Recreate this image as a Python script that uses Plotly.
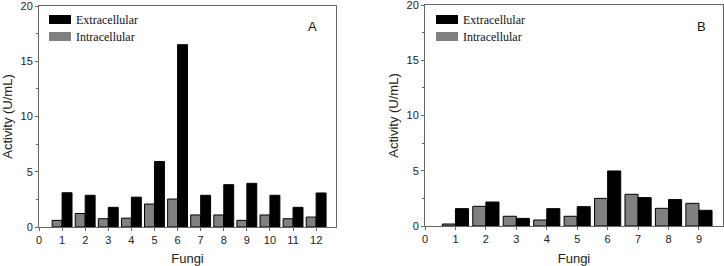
import plotly.graph_objects as go

# Panel A data
fungi_a = list(range(1, 13))
extra_a = [3.1, 2.87, 1.78, 2.7, 5.93, 16.5, 2.87, 3.83, 3.95, 2.87, 1.78, 3.08]
intra_a = [0.6, 1.22, 0.75, 0.8, 2.08, 2.53, 1.09, 1.09, 0.6, 1.09, 0.75, 0.9]

# Panel B data
fungi_b = list(range(1, 10))
extra_b = [1.57, 2.17, 0.69, 1.57, 1.75, 4.98, 2.57, 2.39, 1.42]
intra_b = [0.18, 1.78, 0.88, 0.54, 0.88, 2.5, 2.87, 1.6, 2.05]

W, H = 724, 266
GREY = "#808080"
AX = "#666666"

def px_x(v):
    return v / W

def px_y(v):
    return 1 - v / H

fig = go.Figure()
fig.add_trace(go.Bar(x=fungi_a, y=intra_a, name="Intracellular", marker=dict(color=GREY, line=dict(color="black", width=1)),
                     xaxis="x", yaxis="y", showlegend=False, offsetgroup="i"))
fig.add_trace(go.Bar(x=fungi_a, y=extra_a, name="Extracellular", marker=dict(color="black", line=dict(color="black", width=1)),
                     xaxis="x", yaxis="y", showlegend=False, offsetgroup="e"))
fig.add_trace(go.Bar(x=fungi_b, y=intra_b, name="Intracellular", marker=dict(color=GREY, line=dict(color="black", width=1)),
                     xaxis="x2", yaxis="y2", showlegend=False, offsetgroup="i"))
fig.add_trace(go.Bar(x=fungi_b, y=extra_b, name="Extracellular", marker=dict(color="black", line=dict(color="black", width=1)),
                     xaxis="x2", yaxis="y2", showlegend=False, offsetgroup="e"))

tickfont = dict(family="Liberation Sans, Arial", size=11, color="#222")
titlefont = dict(family="Liberation Sans, Arial", size=13, color="#222")

def xax(domain, rng, n, anchor):
    return dict(domain=domain, range=rng, anchor=anchor, tickmode="array", tickvals=list(range(0, n + 1)),
                ticktext=[str(i) for i in range(0, n + 1)], ticks="outside", ticklen=3, tickcolor=AX,
                showline=True, linecolor=AX, linewidth=1, mirror=True, showgrid=False, zeroline=False,
                automargin=False, ticklabeloverflow="allow", tickfont=tickfont,
                title=dict(text="Fungi", font=titlefont, standoff=9))

def yax(domain, anchor):
    return dict(domain=domain, range=[0, 20], anchor=anchor, tickvals=[0, 5, 10, 15, 20], ticks="outside", ticklen=3,
                tickcolor=AX, showline=True, linecolor=AX, linewidth=1, mirror=True, showgrid=False, zeroline=False,
                minor=dict(dtick=2.5, ticks="outside", ticklen=2, tickcolor=AX, showgrid=False),
                automargin=False, ticklabeloverflow="allow", tickfont=tickfont,
                title=dict(text="Activity (U/mL)", font=titlefont, standoff=4))

fig.update_layout(
    width=W, height=H, margin=dict(l=0, r=0, t=0, b=0),
    paper_bgcolor="white", plot_bgcolor="white",
    barmode="group", bargap=0.14, bargroupgap=0,
    xaxis=xax([px_x(39), px_x(336)], [0, 12.86], 12, "y"),
    yaxis=yax([px_y(227), px_y(6)], "x"),
    xaxis2=xax([px_x(425), px_x(723)], [0, 9.79], 9, "y2"),
    yaxis2=yax([px_y(226), px_y(5)], "x2"),
)

# Legends (manual swatches + text) and panel letters
legfont = dict(family="Liberation Serif, Times New Roman", size=12, color="#111")
shapes = []
annots = []
for x0, letter, lx in [(49, "A", 312), (436, "B", 701)]:
    for i, (label, col) in enumerate([("Extracellular", "black"), ("Intracellular", GREY)]):
        yt = 15 + i * 17
        shapes.append(dict(type="rect", xref="paper", yref="paper", x0=px_x(x0), x1=px_x(x0 + 22),
                           y0=px_y(yt + 9), y1=px_y(yt), fillcolor=col, line=dict(width=0)))
        annots.append(dict(xref="paper", yref="paper", x=px_x(x0 + 25), y=px_y(yt + 4.5), text=label,
                           showarrow=False, xanchor="left", yanchor="middle", font=legfont))
    annots.append(dict(xref="paper", yref="paper", x=px_x(lx), y=px_y(26), text=letter, showarrow=False,
                       xanchor="center", yanchor="middle", font=dict(family="Liberation Sans, Arial", size=13, color="#111")))
fig.update_layout(shapes=shapes, annotations=annots)

fig.write_html("out.html", config={"displayModeBar": False},
               post_script="document.body.style.margin='0';document.body.style.overflow='hidden';")
